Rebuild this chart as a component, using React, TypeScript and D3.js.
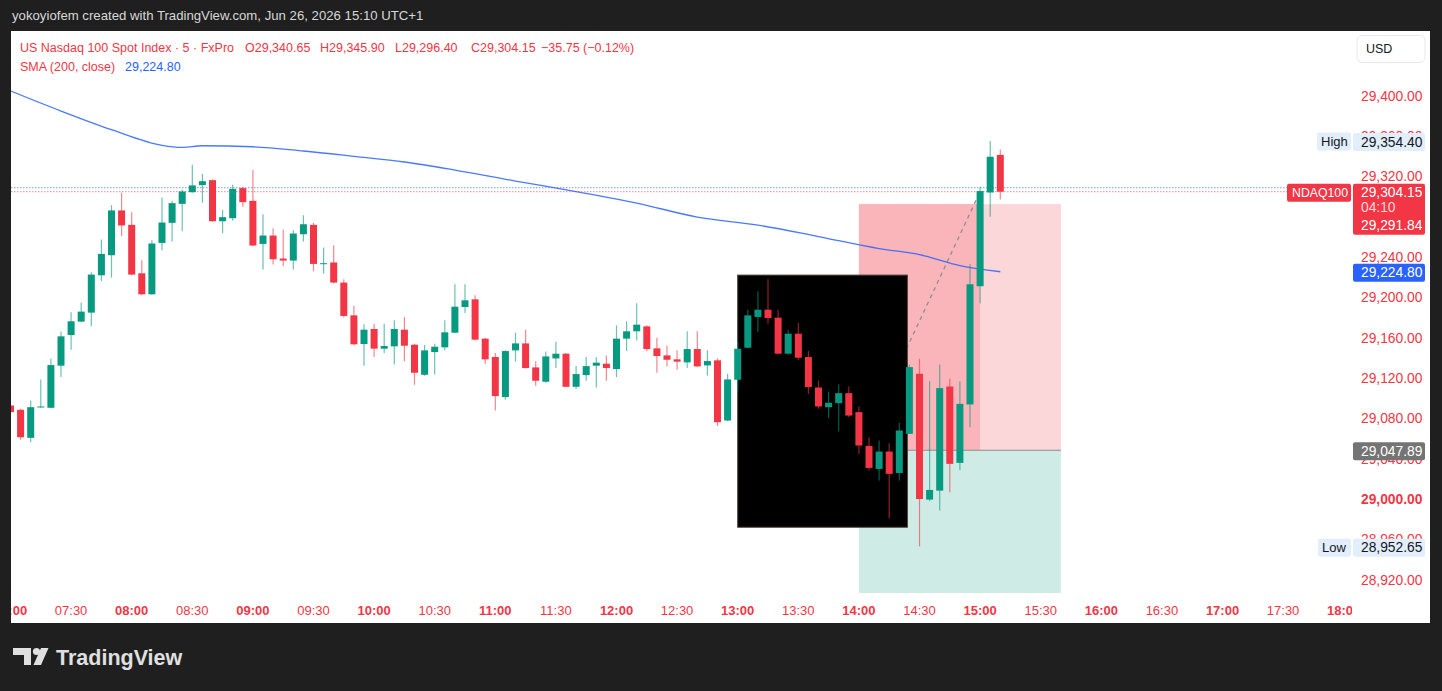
import * as d3 from "d3";

// 5 minute bars, first bar at 07:00
const sessionStart = "07:00";
const barMinutes = 5;

const opens = [
  29092.3, 29088.0, 29060.2, 29090.3, 29090.0, 29131.7, 29162.1, 29175.4, 29184.3, 29221.3,
  29241.2, 29285.6, 29271.3, 29223.3, 29202.5, 29253.4, 29273.3, 29292.1, 29303.7, 29310.7,
  29315.6, 29274.9, 29277.9, 29307.7, 29295.1, 29252.4, 29260.7, 29237.9, 29235.9, 29262.0,
  29271.3, 29232.6, 29234.0, 29214.1, 29181.6, 29153.2, 29168.1, 29148.6, 29150.9, 29167.4,
  29152.5, 29122.7, 29145.2, 29149.9, 29164.4, 29189.9, 29197.5, 29158.5, 29140.3, 29100.6,
  29146.9, 29153.8, 29130.0, 29115.8, 29138.9, 29143.6, 29110.8, 29122.4, 29131.7, 29133.7,
  29128.4, 29158.5, 29165.8, 29170.7, 29148.9, 29141.9, 29138.0, 29135.0, 29148.2, 29132.0,
  29137.0, 29077.4, 29117.8, 29149.5, 29180.0, 29187.2, 29179.3, 29143.6, 29163.4, 29140.3,
  29110.1, 29090.6, 29094.6, 29104.5, 29085.7, 29052.2, 29029.4, 29046.6, 29025.4, 29064.2,
  29123.7, 28999.0, 29007.9, 29111.1, 29035.4, 29093.3, 29210.5, 29303.4, 29340.65,
];
const highs = [
  29094.5, 29089.0, 29097.3, 29118.1, 29138.6, 29165.5, 29184.6, 29194.2, 29224.3, 29256.8,
  29290.8, 29303.0, 29283.9, 29236.2, 29256.1, 29298.5, 29295.1, 29306.4, 29330.9, 29321.6,
  29316.3, 29285.9, 29311.0, 29309.0, 29325.6, 29281.9, 29268.0, 29266.7, 29266.0, 29280.9,
  29273.3, 29248.8, 29251.1, 29217.4, 29190.9, 29172.7, 29173.4, 29173.4, 29176.7, 29180.0,
  29153.5, 29152.2, 29153.5, 29176.7, 29212.4, 29212.4, 29201.5, 29159.1, 29144.3, 29146.9,
  29164.4, 29167.4, 29136.0, 29145.9, 29155.5, 29144.3, 29131.3, 29140.3, 29140.3, 29141.9,
  29171.7, 29175.7, 29193.5, 29171.7, 29159.5, 29151.5, 29146.9, 29165.8, 29165.8, 29146.9,
  29139.0, 29123.7, 29155.2, 29187.2, 29205.4, 29217.3, 29187.2, 29167.4, 29174.0, 29146.2,
  29117.1, 29106.2, 29113.1, 29111.1, 29091.3, 29060.8, 29057.5, 29054.9, 29075.1, 29132.6,
  29138.6, 29116.4, 29133.0, 29118.8, 29116.4, 29232.2, 29309.1, 29354.4, 29345.9,
];
const lows = [
  29084.0, 29058.3, 29055.9, 29090.0, 29089.5, 29120.4, 29147.6, 29175.0, 29170.7, 29215.7,
  29219.0, 29260.0, 29221.3, 29201.5, 29202.0, 29246.2, 29254.8, 29265.0, 29303.0, 29293.1,
  29274.3, 29263.3, 29275.3, 29289.2, 29250.0, 29227.0, 29232.0, 29230.3, 29227.0, 29254.8,
  29225.3, 29223.0, 29213.1, 29179.4, 29152.0, 29131.7, 29140.3, 29144.3, 29133.0, 29136.0,
  29112.8, 29121.8, 29123.1, 29146.9, 29164.0, 29183.9, 29157.0, 29133.3, 29087.3, 29097.9,
  29135.7, 29129.0, 29111.8, 29114.8, 29129.4, 29110.5, 29108.5, 29116.8, 29110.2, 29116.8,
  29120.4, 29146.2, 29156.8, 29146.2, 29124.7, 29131.0, 29127.7, 29129.4, 29130.5, 29122.1,
  29072.0, 29076.7, 29106.5, 29149.0, 29165.1, 29173.3, 29143.0, 29142.9, 29137.0, 29103.9,
  29089.0, 29079.7, 29066.8, 29080.7, 29044.3, 29027.8, 29017.8, 28980.5, 29017.8, 29064.0,
  28952.65, 28997.3, 28988.1, 29006.3, 29028.4, 29070.8, 29193.3, 29279.3, 29296.4,
];
const closes = [
  29085.7, 29060.8, 29090.6, 29091.3, 29132.3, 29160.8, 29175.7, 29185.3, 29222.0, 29242.5,
  29285.6, 29270.7, 29222.0, 29202.5, 29252.8, 29273.6, 29292.8, 29304.4, 29310.4, 29314.6,
  29274.9, 29278.9, 29307.0, 29293.8, 29250.8, 29260.7, 29237.2, 29235.9, 29262.7, 29271.9,
  29232.6, 29233.3, 29214.1, 29181.0, 29152.9, 29167.4, 29148.6, 29151.2, 29168.1, 29151.5,
  29124.7, 29146.9, 29150.5, 29164.8, 29190.2, 29196.5, 29157.5, 29138.0, 29101.6, 29146.2,
  29153.8, 29129.4, 29116.8, 29140.9, 29143.6, 29110.8, 29123.4, 29131.3, 29134.7, 29129.4,
  29158.5, 29165.8, 29172.4, 29148.2, 29141.3, 29137.6, 29135.7, 29148.2, 29131.0, 29136.3,
  29075.7, 29118.1, 29148.5, 29181.6, 29187.2, 29178.9, 29143.6, 29163.4, 29139.6, 29110.5,
  29091.3, 29094.9, 29104.5, 29082.3, 29052.6, 29030.4, 29046.6, 29024.5, 29067.5, 29130.3,
  28999.6, 29008.6, 29109.5, 29034.4, 29093.9, 29212.4, 29304.8, 29338.8, 29304.15,
];

// SMA(200) at these bars
const smaBars = [0, 5, 10, 15, 17, 19, 24, 29, 34, 39, 44, 50, 56, 62, 68, 74, 80, 86, 90, 94, 98];
const smaValues = [
  29404.0, 29384.1, 29365.6, 29350.1, 29348.1, 29349.7, 29348.7, 29344.5, 29339.2, 29333.6,
  29325.6, 29314.7, 29304.3, 29292.9, 29279.0, 29271.1, 29259.7, 29247.8, 29241.8, 29230.9, 29224.8,
];

const priceTicks = [28920, 28960, 29000, 29040, 29080, 29120, 29160, 29200, 29240, 29280, 29320, 29360, 29400];
const timeTicks = [
  "07:00", "07:30", "08:00", "08:30", "09:00", "09:30", "10:00", "10:30", "11:00", "11:30", "12:00", "12:30",
  "13:00", "13:30", "14:00", "14:30", "15:00", "15:30", "16:00", "16:30", "17:00", "17:30", "18:00",
];

// short position tool
const posEntry = 29047.89;
const posStop = 29291.84;
const posTarget = 28800;
const posStart = "14:00";
const posEnd = "15:40";
const posHit = "15:00";

// black rectangle drawing
const boxStart = "13:00";
const boxEnd = "14:24";
const boxTop = 29221.5;
const boxBottom = 28971.6;

const lastPrice = 29304.15;
const bidLine = 29308.1;
const sessionHigh = 29354.4;
const sessionLow = 28952.65;
const smaLast = 29224.8;

const UP = "#089981";
const DOWN = "#f23645";
const BLUE = "#2962ff";
const F = "'Liberation Sans', Arial, sans-serif";

export default function App() {
  const parse = d3.timeParse("%H:%M");
  const t0 = parse(sessionStart) as Date;
  const barTime = (i: number) => d3.timeMinute.offset(t0, i * barMinutes);
  const x = d3.scaleTime().domain([parse("07:00") as Date, parse("18:00") as Date]).range([10.5, 1343.7]);
  const y = d3.scaleLinear().domain([28920, 29400]).range([579.3, 95]);
  const tx = (s: string) => x(parse(s) as Date);
  const fmt = d3.format(",.2f");

  const plot = { l: 11, t: 31, r: 1352, b: 593 };

  const smaPath = d3.line<number>()
    .x((_, k) => x(barTime(smaBars[k])))
    .y((v) => y(v))
    .curve(d3.curveMonotoneX)(smaValues) || "";

  const ps = tx(posStart), pe = tx(posEnd), ph = tx(posHit);

  const axisBox = (price: number, text: string, bg: string, fg: string) => (
    <g key={text}>
      <rect x={1353} y={y(price) - 8} width={72} height={18} rx={2} fill={bg} />
      <text x={1361} y={y(price) + 1} dominantBaseline="central" fontSize={13.8} fill={fg}>{text}</text>
    </g>
  );

  return (
    <svg width={1442} height={691} style={{ position: "fixed", left: 0, top: 0 }} fontFamily={F}>
      <defs>
        <clipPath id="plotClip">
          <rect x={plot.l} y={plot.t} width={plot.r - plot.l} height={plot.b - plot.t} />
        </clipPath>
        <clipPath id="timeClip">
          <rect x={plot.l} y={plot.b} width={plot.r - plot.l} height={30} />
        </clipPath>
      </defs>
      <rect x={0} y={0} width={1442} height={691} fill="#1f1f1f" />
      <text x={12} y={19.5} fontSize={13.2} fill="#d8d8d8">
        yokoyiofem created with TradingView.com, Jun 26, 2026 15:10 UTC+1
      </text>
      <rect x={11} y={31} width={1419} height={592} fill="#ffffff" />

      <g clipPath="url(#plotClip)">
        {/* position zones */}
        <rect x={ps} y={y(posStop)} width={pe - ps} height={y(posEntry) - y(posStop)} fill="#fcd7da" />
        <rect x={ps} y={y(posStop)} width={ph - ps} height={y(posEntry) - y(posStop)} fill="#f9b5ba" />
        <rect x={ps} y={y(posEntry)} width={pe - ps} height={y(posTarget) - y(posEntry)} fill="#cfebe6" />
        <line x1={ps} x2={pe} y1={y(posEntry)} y2={y(posEntry)} stroke="#8c8c8c" strokeWidth={1} />
        <line x1={ps} y1={y(posEntry)} x2={ph} y2={y(lastPrice)} stroke="#8f8f8f" strokeWidth={1.3} strokeDasharray="4 4" />

        <rect x={tx(boxStart)} y={y(boxTop)} width={tx(boxEnd) - tx(boxStart)} height={y(boxBottom) - y(boxTop)}
          fill="#000000" stroke="#4d4034" strokeWidth={1} />

        <path d={smaPath} fill="none" stroke={BLUE} strokeWidth={1.3} strokeOpacity={0.85} />

        <line x1={plot.l} x2={plot.r} y1={y(bidLine)} y2={y(bidLine)} stroke={BLUE} strokeOpacity={0.65} strokeDasharray="1.5 1.5" />
        <line x1={plot.l} x2={plot.r} y1={y(lastPrice)} y2={y(lastPrice)} stroke={DOWN} strokeOpacity={0.6} strokeDasharray="1.5 1.5" />

        {closes.map((c, i) => {
          const o = opens[i];
          const cx = x(barTime(i));
          const col = c >= o ? UP : DOWN;
          const top = y(Math.max(o, c));
          const bot = y(Math.min(o, c));
          return (
            <g key={i}>
              <line x1={cx} x2={cx} y1={y(highs[i])} y2={y(lows[i])} stroke={col} strokeOpacity={0.6} strokeWidth={1.2} />
              <rect x={cx - 3.5} y={top} width={7} height={Math.max(1, bot - top)} fill={col} />
            </g>
          );
        })}
      </g>

      {/* price axis */}
      {priceTicks.map((p) => (
        <text key={p} x={1361} y={y(p) + 1} dominantBaseline="central" fontSize={13.8}
          fontWeight={p % 1000 === 0 ? "bold" : "normal"} fill={DOWN}>{fmt(p)}</text>
      ))}

      {/* time axis */}
      <g clipPath="url(#timeClip)">
        {timeTicks.map((s) => (
          <text key={s} x={tx(s)} y={610} textAnchor="middle" dominantBaseline="central" fontSize={13}
            fontWeight={s.endsWith(":00") ? "bold" : "normal"} fill={DOWN}>{s}</text>
        ))}
      </g>

      {/* legend */}
      <g fontSize={12.5} fill={DOWN}>
        <text x={20} y={51.5}>US Nasdaq 100 Spot Index · 5 · FxPro</text>
        <text x={245} y={51.5}>O{fmt(opens[98])}</text>
        <text x={320} y={51.5}>H{fmt(highs[98])}</text>
        <text x={395} y={51.5}>L{fmt(lows[98])}</text>
        <text x={471} y={51.5}>C{fmt(closes[98])}</text>
        <text x={541} y={51.5}>{"\u221235.75 (\u22120.12%)"}</text>
        <text x={20} y={70.5}>SMA (200, close)</text>
        <text x={125} y={70.5} fill={BLUE}>{fmt(smaLast)}</text>
      </g>

      {/* USD button */}
      <rect x={1357} y={35.5} width={68} height={27} rx={5} fill="#ffffff" stroke="#e6e8ee" />
      <text x={1366} y={49} dominantBaseline="central" fontSize={12.5} fill="#131722">USD</text>

      {/* right side labels */}
      <rect x={1317} y={y(sessionHigh) - 8.5} width={34} height={18} rx={2} fill="#e3eefc" />
      <text x={1321} y={y(sessionHigh) + 0.5} dominantBaseline="central" fontSize={13} fill="#131722">High</text>
      {axisBox(sessionHigh, fmt(sessionHigh), "#e3eefc", "#131722")}

      <rect x={1287} y={y(lastPrice) - 8} width={64} height={18} rx={2} fill={DOWN} />
      <text x={1292} y={y(lastPrice) + 1} dominantBaseline="central" fontSize={12.3} fill="#ffffff">NDAQ100</text>
      <rect x={1353} y={y(lastPrice) - 8} width={72} height={51} rx={2} fill={DOWN} />
      <text x={1361} y={y(lastPrice) + 1} dominantBaseline="central" fontSize={13.8} fill="#ffffff">{fmt(lastPrice)}</text>
      <text x={1361} y={y(lastPrice) + 15.5} dominantBaseline="central" fontSize={13.8} fill="#ffd6d9">04:10</text>
      <text x={1361} y={y(lastPrice) + 34} dominantBaseline="central" fontSize={13.8} fill="#ffffff">{fmt(posStop)}</text>

      {axisBox(smaLast, fmt(smaLast), BLUE, "#ffffff")}
      {axisBox(posEntry, fmt(posEntry), "#747474", "#ffffff")}

      <rect x={1318} y={y(sessionLow) - 7.5} width={33} height={18} rx={2} fill="#e3eefc" />
      <text x={1322} y={y(sessionLow) + 1.5} dominantBaseline="central" fontSize={13} fill="#131722">Low</text>
      <rect x={1353} y={y(sessionLow) - 7.5} width={72} height={18} rx={2} fill="#e3eefc" />
      <text x={1361} y={y(sessionLow) + 1.5} dominantBaseline="central" fontSize={13.8} fill="#131722">{fmt(sessionLow)}</text>

      {/* TradingView logo */}
      <g fill="#e0e0e0">
        <path d="M13,648 H31 V665 H24 V655 H13 Z" />
        <circle cx={36.5} cy={651.5} r={3.6} />
        <path d="M41,648 H48.5 L41,665 H33.5 Z" />
        <text x={56} y={664.5} fontSize={21.5} fontWeight="bold">TradingView</text>
      </g>
    </svg>
  );
}
